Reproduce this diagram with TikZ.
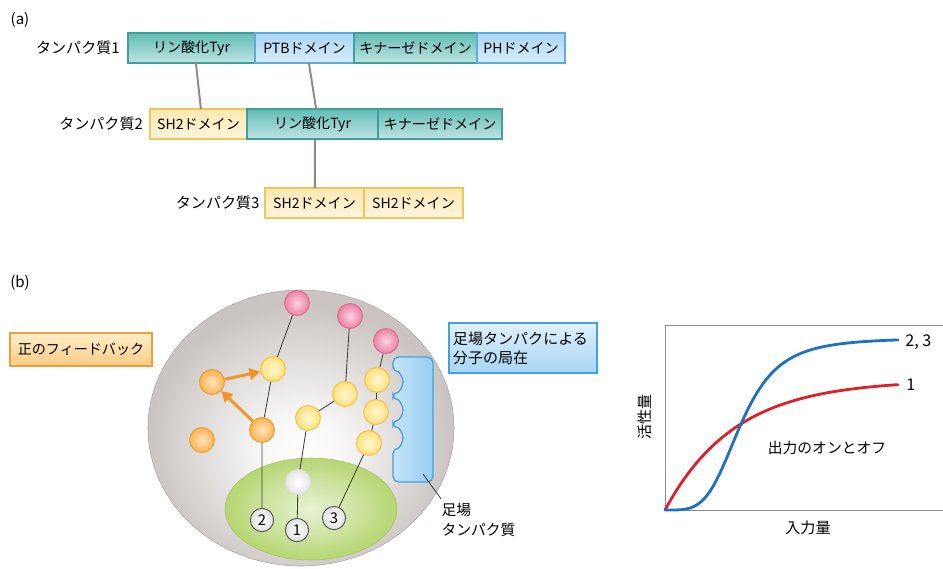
\documentclass[tikz,border=0pt]{standalone}
\usepackage{fontspec}
\setmainfont{Noto Sans CJK JP}
\usepackage{xcolor}
\usepackage{tikz}
\usetikzlibrary{arrows.meta,positioning}
\definecolor{domteal}{RGB}{98,188,182}
\definecolor{domtealdark}{RGB}{62,160,154}
\definecolor{domblue}{RGB}{170,214,243}
\definecolor{dombluedark}{RGB}{92,172,226}
\definecolor{domyellow}{RGB}{255,232,176}
\definecolor{domyellowdark}{RGB}{244,196,88}
\definecolor{linkgrey}{RGB}{150,136,130}
\definecolor{cellgrey}{RGB}{202,197,194}
\definecolor{membgreen}{RGB}{182,214,114}
\definecolor{ballyellow}{RGB}{255,226,120}
\definecolor{ballgold}{RGB}{240,196,80}
\definecolor{ballorange}{RGB}{250,180,80}
\definecolor{ballorangedark}{RGB}{236,160,60}
\definecolor{ballpink}{RGB}{238,130,165}
\definecolor{ballpinkdark}{RGB}{222,110,145}
\definecolor{fborange}{RGB}{238,150,40}
\definecolor{scafblue}{RGB}{150,206,242}
\definecolor{scafbluedark}{RGB}{70,160,222}
\definecolor{curvered}{RGB}{222,32,42}
\definecolor{curveblue}{RGB}{32,112,192}
\pgfdeclareradialshading{cellshade}{\pgfpoint{0bp}{-5bp}}{%
  color(0bp)=(white); color(7bp)=(white!85!cellgrey);
  color(25bp)=(cellgrey); color(50bp)=(cellgrey)}
\tikzset{
  domainbox/.style={
    rectangle,
    line width=0.9pt,
    minimum height=0.75cm,
    inner sep=0pt,
    outer sep=0pt,
    font=\fontsize{10}{12}\selectfont
  },
  tealdomain/.style={domainbox, draw=domtealdark, top color=domteal, bottom color=domteal!40!white},
  bluedomain/.style={domainbox, draw=dombluedark, top color=domblue, bottom color=domblue!45!white},
  yellowdomain/.style={domainbox, draw=domyellowdark, top color=domyellow, bottom color=domyellow!40!white},
  protlabel/.style={font=\fontsize{10.7}{12}\selectfont, inner sep=0pt},
  link/.style={draw=linkgrey, line width=1.4pt},
  ball/.style={circle, minimum size=0.62cm, inner sep=0pt, line width=0.8pt},
  yellowball/.style={ball, draw=ballgold, inner color=white!70!ballyellow, outer color=ballyellow},
  orangeball/.style={ball, draw=ballorangedark, inner color=white!65!ballorange, outer color=ballorange},
  pinkball/.style={ball, draw=ballpinkdark, inner color=white!65!ballpink, outer color=ballpink},
  whiteball/.style={ball, draw=black!12, inner color=white, outer color=black!10},
  numball/.style={circle, minimum size=0.58cm, inner sep=0pt, line width=0.7pt, draw=black!65,
    inner color=white, outer color=black!12, font=\fontsize{10.5}{11}\selectfont},
  chainline/.style={draw=black!75, line width=0.6pt},
  fbarrow/.style={-{Triangle[length=2.7mm,width=2.9mm]}, line width=2.1pt, draw=fborange},
  notebox/.style={
    rectangle,
    line width=0.9pt,
    inner sep=0pt,
    align=left,
    font=\fontsize{10}{13}\selectfont
  },
  axisline/.style={draw=black!45, line width=0.6pt},
  responsecurve/.style={line width=2pt, line cap=round}
}

\begin{document}
\begin{tikzpicture}[x=0.025cm, y=-0.025cm,
  declare function={hill(\t)=\t^4/(1+\t^4);}]
\useasboundingbox (0,0) rectangle (943,568);

\node[protlabel] (parta) at (20,20) {(a)};

\node[tealdomain, minimum width=3.175cm] (p1tyr) at (191.5,48) {リン酸化Tyr};
\node[bluedomain, minimum width=2.475cm, right=0pt of p1tyr] (p1ptb) {PTBドメイン};
\node[tealdomain, minimum width=3.075cm, right=0pt of p1ptb] (p1kin) {キナーゼドメイン};
\node[bluedomain, minimum width=2.2cm, right=0pt of p1kin] (p1ph) {PHドメイン};
\node[protlabel, left=0.2cm of p1tyr] (p1name) {タンパク質1};

\node[yellowdomain, minimum width=2.425cm] (p2sh2) at (198.5,124) {SH2ドメイン};
\node[tealdomain, minimum width=3.275cm, right=0pt of p2sh2] (p2tyr) {リン酸化Tyr};
\node[tealdomain, minimum width=3.1cm, right=0pt of p2tyr] (p2kin) {キナーゼドメイン};
\node[protlabel, left=0.17cm of p2sh2] (p2name) {タンパク質2};

\node[yellowdomain, minimum width=2.475cm] (p3sh2a) at (314.5,203) {SH2ドメイン};
\node[yellowdomain, minimum width=2.475cm, right=0pt of p3sh2a] (p3sh2b) {SH2ドメイン};
\node[protlabel, left=0.13cm of p3sh2a] (p3name) {タンパク質3};

\draw[link] ([xshift=0.11cm]p1tyr.south) -- ([xshift=0.06cm]p2sh2.north);
\draw[link] ([xshift=0.11cm]p1ptb.south) -- ([xshift=0.09cm]p2tyr.north);
\draw[link] ([xshift=0.06cm]p2tyr.south) -- ([xshift=0.01cm]p3sh2a.north);

\node[protlabel] (partb) at (20,283) {(b)};

\shade[shading=cellshade, draw=cellgrey!85!black, line width=0.4pt] (301,428) ellipse [x radius=153, y radius=138];
\shade[inner color=membgreen!30!white, outer color=membgreen, draw=membgreen!92!black, line width=0.4pt] (311,509) ellipse [x radius=86, y radius=51];

\shade[left color=scafblue!55!white, right color=scafblue, draw=scafbluedark, line width=0.9pt, rounded corners=4pt]
  (393,372) -- (393,357) -- (433,357) -- (433,482) -- (393,482) -- (393,448)
  arc[start angle=90, end angle=-90, radius=10] -- (393,420)
  arc[start angle=90, end angle=-90, radius=10] -- (393,392)
  arc[start angle=90, end angle=-90, radius=10] -- cycle;
\coordinate (scaftip) at (423,474);

\node[pinkball] (pink1) at (297,303) {};
\node[pinkball] (pink2) at (350,316) {};
\node[pinkball] (pink3) at (386,341) {};
\node[yellowball] (ball2a) at (273,369) {};
\node[orangeball] (ball2b) at (262,430) {};
\node[orangeball] (fbball) at (212,382) {};
\node[orangeball] (freeball) at (202,440) {};
\node[yellowball] (ball1a) at (345,394) {};
\node[yellowball] (ball1b) at (308,418) {};
\node[whiteball] (ball1c) at (298,482) {};
\node[yellowball] (ball3a) at (377,380) {};
\node[yellowball] (ball3b) at (376,412) {};
\node[yellowball] (ball3c) at (369,443) {};

\node[numball] (num2) at (262,520) {2};
\node[numball] (num1) at (297,530) {1};
\node[numball] (num3) at (334,518) {3};

\draw[chainline] (pink1) -- (ball2a) -- (ball2b) -- (num2);
\draw[chainline] (pink2) -- (ball1a) -- (ball1b) -- (ball1c) -- (num1);
\draw[chainline] (pink3) -- (ball3a) -- (ball3b) -- (ball3c) -- (num3);

\draw[fbarrow] (fbball) -- (ball2a);
\draw[fbarrow] (ball2b) -- (fbball);

\node[notebox, draw=ballorangedark, top color=domyellow!70!white, bottom color=ballorange!70!white,
  minimum width=3.55cm, minimum height=0.825cm, align=center] (fbnote) at (81,349.5) {正のフィードバック};
\node[notebox, draw=scafbluedark, top color=scafblue!30!white, bottom color=scafblue!85!white,
  minimum width=3.7cm, minimum height=1.25cm, text width=3.5cm, font=\fontsize{10.7}{13.5}\selectfont]
  (scafnote) at (523,348) {足場タンパクによる\\分子の局在};

\node[notebox, anchor=north west, font=\fontsize{10.5}{14}\selectfont] (scaflabel) at (441,503) {足場\\タンパク質};
\draw[chainline] (scaftip) -- ([yshift=3pt]scaflabel.north west);

\draw[axisline] (943,325) -- (665,325) -- (665,510) -- (943,510);
\draw[responsecurve, draw=curvered] plot[domain=0:233, samples=80] ({665+\x},{510-130*(1-exp(-\x/70))});
\draw[responsecurve, draw=curveblue] plot[domain=0:233, samples=100] ({665+\x},{510-172*hill(\x/76)});

\node[protlabel, anchor=west, font=\fontsize{11.5}{12}\selectfont] (lab23) at (905,342) {2, 3};
\node[protlabel, anchor=west, font=\fontsize{11.5}{12}\selectfont] (lab1) at (906,385) {1};
\node[protlabel, font=\fontsize{10.5}{12}\selectfont] (switchlabel) at (827,448) {出力のオンとオフ};
\node[protlabel] (xlabel) at (808,528) {入力量};
\node[protlabel, rotate=90] (ylabel) at (645,417) {活性量};
\end{tikzpicture}
\end{document}
